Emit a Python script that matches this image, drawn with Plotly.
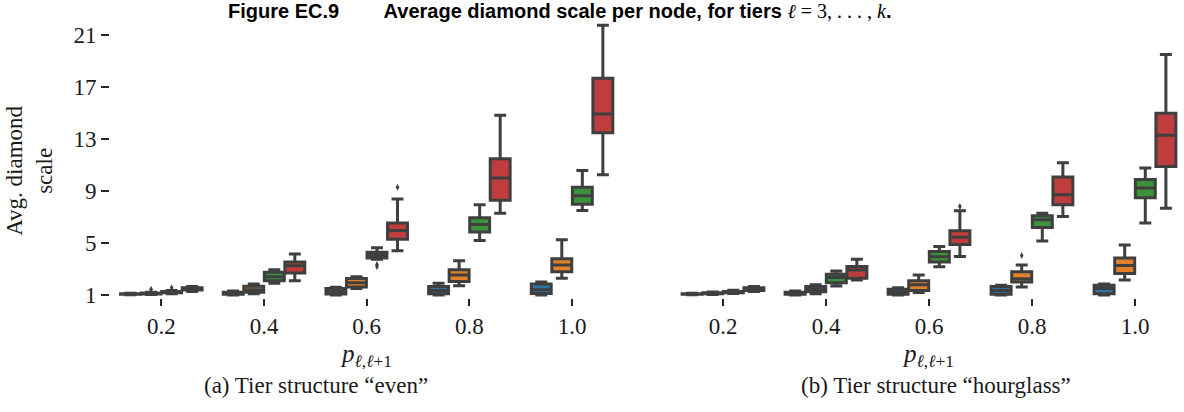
import plotly.graph_objects as go

# ---------------- data ----------------
categories = ["0.2", "0.4", "0.6", "0.8", "1.0"]
hue_names = ["ℓ = 3", "ℓ = 4", "ℓ = 5", "ℓ = 6"]
hue_colors = ["#3274a1", "#e1812c", "#3a923a", "#c03d3e"]

# Panel (a): tier structure "even"  -- one row per hue, one value per category
even_lo = [[1.02, 1.00, 1.00, 1.00, 1.00],
           [1.03, 1.10, 1.50, 1.72, 2.29],
           [1.10, 1.90, 3.75, 5.19, 7.51],
           [1.28, 2.10, 4.40, 7.30, 10.27]]
even_q1 = [[1.05, 1.05, 1.08, 1.10, 1.12],
           [1.08, 1.22, 1.62, 2.05, 2.80],
           [1.17, 2.10, 3.85, 5.85, 8.00],
           [1.38, 2.70, 5.30, 8.30, 13.50]]
even_med = [[1.07, 1.12, 1.25, 1.35, 1.40],
            [1.12, 1.40, 1.95, 2.54, 3.32],
            [1.22, 2.40, 4.07, 6.43, 8.64],
            [1.45, 3.25, 5.97, 10.02, 14.95]]
even_q3 = [[1.10, 1.22, 1.50, 1.65, 1.85],
           [1.16, 1.68, 2.28, 2.95, 3.80],
           [1.27, 2.75, 4.30, 6.95, 9.30],
           [1.55, 3.55, 6.55, 11.50, 17.70]]
even_hi = [[1.14, 1.30, 1.60, 1.90, 2.00],
           [1.22, 1.85, 2.40, 3.63, 5.25],
           [1.35, 2.95, 4.65, 7.95, 10.60],
           [1.65, 4.15, 8.40, 14.85, 21.77]]
even_outliers = [[[], [], [], [], []],
                 [[1.45], [], [], [], []],
                 [[1.55], [], [3.20, 3.35], [], []],
                 [[], [], [9.30], [], []]]

# Panel (b): tier structure "hourglass"
hour_lo = [[1.02, 1.00, 1.00, 1.00, 1.00],
           [1.04, 1.10, 1.20, 1.62, 2.16],
           [1.12, 1.70, 3.17, 5.17, 6.54],
           [1.28, 2.15, 3.96, 7.05, 7.69]]
hour_q1 = [[1.05, 1.06, 1.05, 1.05, 1.10],
           [1.09, 1.25, 1.35, 2.00, 2.65],
           [1.18, 1.95, 3.55, 6.20, 8.50],
           [1.35, 2.30, 4.90, 7.95, 10.90]]
hour_med = [[1.07, 1.13, 1.20, 1.35, 1.50],
            [1.13, 1.45, 1.80, 2.26, 3.27],
            [1.23, 2.35, 3.95, 6.79, 9.24],
            [1.45, 2.93, 5.45, 8.72, 13.30]]
hour_q3 = [[1.10, 1.22, 1.45, 1.65, 1.75],
           [1.18, 1.65, 2.10, 2.80, 3.85],
           [1.28, 2.60, 4.35, 7.10, 9.90],
           [1.55, 3.20, 5.95, 10.10, 15.00]]
hour_hi = [[1.14, 1.30, 1.55, 1.75, 1.85],
           [1.24, 1.80, 2.54, 3.32, 4.86],
           [1.36, 2.85, 4.73, 7.30, 10.78],
           [1.65, 3.76, 7.49, 11.19, 19.53]]
hour_outliers = [[[], [], [], [], []],
                 [[], [], [], [4.04], []],
                 [[], [], [], [], []],
                 [[], [], [7.82], [], []]]

y_ticks = [1, 5, 9, 13, 17, 21]

# ---------------- layout constants ----------------
W, H = 1184, 412
L, R, T, B = 110, 0, 12.4, 114
PW, PH = W - L - R, H - T - B
EDGE = "#3f3f3f"
TXT = "#1a1a1a"
SERIF = "Liberation Serif"
SANS = "Liberation Sans"


def px(x):
    return (x - L) / PW


def py(y):
    return (H - B - y) / PH


fig = go.Figure()
hue_w = 0.2
panels = [("x", "y", even_lo, even_q1, even_med, even_q3, even_hi, even_outliers),
          ("x2", "y2", hour_lo, hour_q1, hour_med, hour_q3, hour_hi, hour_outliers)]
for xa, ya, lo, q1, med, q3, hi, outs in panels:
    for h in range(len(hue_names)):
        pos = [i + (h - 1.5) * hue_w for i in range(len(categories))]
        fig.add_trace(go.Box(
            x=pos, q1=q1[h], median=med[h], q3=q3[h],
            lowerfence=lo[h], upperfence=hi[h],
            width=hue_w * 0.97, whiskerwidth=0.6,
            fillcolor=hue_colors[h], line=dict(color=EDGE, width=3),
            name=hue_names[h], showlegend=False, boxpoints=False,
            xaxis=xa, yaxis=ya, hoverinfo="skip"))
        ox, oy = [], []
        for i, vals in enumerate(outs[h]):
            for v in vals:
                ox.append(pos[i])
                oy.append(v)
        if ox:
            fig.add_trace(go.Scatter(
                x=ox, y=oy, mode="markers", showlegend=False,
                marker=dict(symbol="diamond-tall", size=5, color=EDGE),
                xaxis=xa, yaxis=ya, hoverinfo="skip"))

yrange = [0.77, 22.8]
common_x = dict(tickmode="array", tickvals=list(range(len(categories))), ticktext=categories,
                showgrid=False, zeroline=False, showline=False,
                ticks="outside", ticklen=7, tickwidth=1.5, tickcolor="#262626",
                tickfont=dict(family=SERIF, size=23, color=TXT))
fig.update_layout(
    width=W, height=H, margin=dict(l=L, r=R, t=T, b=B, autoexpand=False),
    paper_bgcolor="white", plot_bgcolor="white",
    xaxis=dict(domain=[0, px(623.4)], range=[-0.5, 4.5], **common_x),
    xaxis2=dict(domain=[px(671.5), 1], range=[-0.5, -0.5 + 512.5 / 103], **common_x),
    yaxis=dict(range=yrange, tickmode="array", tickvals=y_ticks,
               ticktext=[str(t) for t in y_ticks],
               showgrid=False, zeroline=False, showline=False,
               ticks="outside", ticklen=8, tickwidth=1.5, tickcolor="#262626",
               tickfont=dict(family=SERIF, size=23, color=TXT)),
    yaxis2=dict(range=yrange, anchor="x2", showgrid=False, zeroline=False, showline=False,
                showticklabels=False, ticks=""),
    showlegend=False,
)

ann = []
title = ('<b>Figure EC.9</b>' + '&nbsp;' * 8 +
         '<b>Average diamond scale per node, for tiers</b> '
         '<span style="font-family:Liberation Serif"><i>ℓ</i> = 3, . . . , <i>k</i></span><b>.</b>')
ann.append(dict(text=title, x=px(560), y=py(11), xref="paper", yref="paper",
                xanchor="center", yanchor="middle", showarrow=False,
                font=dict(family=SANS, size=20, color="#000")))
ann.append(dict(text="Avg. diamond<br>scale", x=px(30), y=py(171), xref="paper", yref="paper",
                xanchor="center", yanchor="middle", textangle=-90, showarrow=False,
                font=dict(family=SERIF, size=23, color=TXT)))
for cx in (366, 928):
    ann.append(dict(text="<i>p</i><sub><i>ℓ</i>,<i>ℓ</i>+1</sub>", x=px(cx), y=py(355),
                    xref="paper", yref="paper", xanchor="center", yanchor="middle",
                    showarrow=False, font=dict(family=SERIF, size=25, color=TXT)))
ann.append(dict(text="(a) Tier structure “even”", x=px(316), y=py(385), xref="paper", yref="paper",
                xanchor="center", yanchor="middle", showarrow=False,
                font=dict(family=SERIF, size=23, color=TXT)))
ann.append(dict(text="(b) Tier structure “hourglass”", x=px(936), y=py(385), xref="paper", yref="paper",
                xanchor="center", yanchor="middle", showarrow=False,
                font=dict(family=SERIF, size=23, color=TXT)))
fig.update_layout(annotations=ann)

fig.write_html("out.html")
